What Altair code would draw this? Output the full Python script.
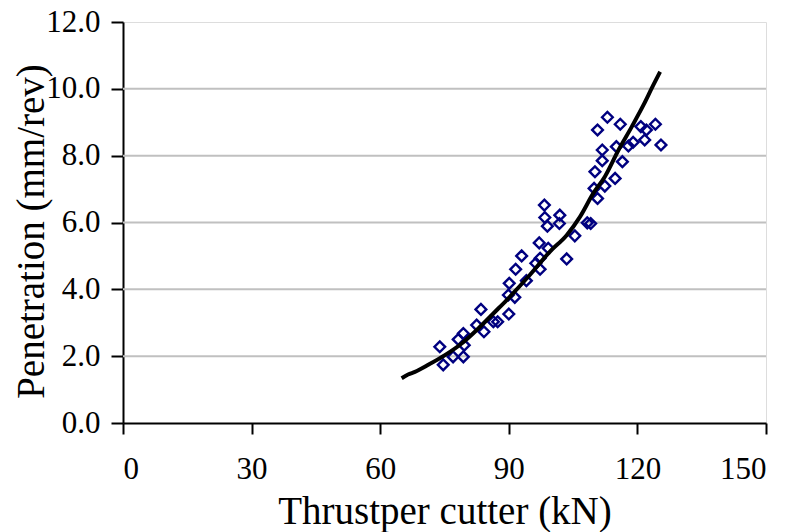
import altair as alt
import pandas as pd

# Observed data points (thrust per cutter kN, penetration mm/rev)
obs_x = [73.9, 74.7, 77.0, 79.4, 79.6, 78.2, 79.4, 82.5, 83.5, 84.2, 86.4, 87.4,
         90.0, 89.9, 91.4, 90.1, 94.1, 91.6, 93.0, 96.3, 97.3, 97.3, 97.1, 99.2,
         98.3, 98.4, 99.0, 101.9, 101.8, 103.5, 105.4, 108.3, 109.1,
         109.9, 110.7, 112.4, 114.8, 110.1, 111.8, 116.5, 111.8, 115.1, 117.9,
         119.0, 121.7, 125.5, 110.7, 113.0, 116.0, 120.8, 122.1, 124.2]
obs_y = [2.28, 1.74, 1.98, 1.98, 2.33, 2.50, 2.68, 2.93, 3.40, 2.73, 3.03, 3.03,
         3.26, 3.83, 3.76, 4.18, 4.26, 4.60, 5.00, 4.78, 4.60, 4.93, 5.39, 5.23,
         6.52, 6.15, 5.89, 6.22, 5.97, 4.91, 5.60, 5.99, 5.97,
         7.02, 6.72, 7.09, 7.32, 7.52, 7.85, 7.82, 8.17, 8.27, 8.29,
         8.40, 8.47, 8.32, 8.77, 9.15, 8.94, 8.87, 8.77, 8.94]

# Fitted curve
fit_x = [65.0, 66.5, 68.1, 71.2, 75.1, 79.0, 82.9, 86.8, 89.5, 94.9, 99.6,
         103.5, 106.6, 109.7, 112.4, 115.6, 118.7, 121.4, 123.7, 125.3]
fit_y = [1.34, 1.45, 1.53, 1.74, 2.03, 2.38, 2.83, 3.33, 3.68, 4.43, 5.13,
         5.62, 6.17, 6.87, 7.37, 8.17, 8.87, 9.51, 10.11, 10.51]

grid_y = [2, 4, 6, 8, 10]
x_ticks = [0, 30, 60, 90, 120, 150]
y_ticks = [0, 2, 4, 6, 8, 10, 12]

FONT = "Liberation Serif"

obs = pd.DataFrame({"x": obs_x, "y": obs_y})
fit = pd.DataFrame({"x": fit_x, "y": fit_y})
grid = pd.DataFrame({"g": grid_y})

xscale = alt.Scale(domain=[0, 150], nice=False, zero=False)
yscale = alt.Scale(domain=[0, 12], nice=False, zero=False)

xaxis = alt.Axis(values=x_ticks, grid=False, tickSize=11, tickWidth=2, tickColor="black",
                 domainColor="black", domainWidth=2, labelFont=FONT, labelFontSize=31,
                 labelColor="black", labelPadding=20, labelBaseline="top",
                 title="Thrustper cutter (kN)", titleFont=FONT, titleFontSize=39,
                 titleFontWeight="normal", titleColor="black", titleBaseline="alphabetic",
                 titleY=100)
yaxis = alt.Axis(values=y_ticks, format=".1f", grid=False, tickSize=12, tickWidth=2,
                 tickColor="black", domainColor="black", domainWidth=2, labelFont=FONT,
                 labelFontSize=31, labelColor="black", labelPadding=11,
                 title="Penetration (mm/rev)", titleFont=FONT, titleFontSize=39,
                 titleFontWeight="normal", titleColor="black", titleAngle=270,
                 titleBaseline="alphabetic", titleAlign="center", titleX=-80, titleY=209)

gridlines = alt.Chart(grid).mark_rule(color="#c0c0c0", strokeWidth=2).encode(
    y=alt.Y("g:Q", scale=yscale, axis=yaxis)
)

points = alt.Chart(obs).mark_point(shape="diamond", filled=False, color="#000080",
                                   size=115, strokeWidth=2.4, opacity=1).encode(
    x=alt.X("x:Q", scale=xscale, axis=xaxis),
    y=alt.Y("y:Q", scale=yscale, axis=yaxis),
)

curve = alt.Chart(fit).mark_line(color="black", strokeWidth=4, interpolate="monotone").encode(
    x=alt.X("x:Q", scale=xscale, axis=xaxis),
    y=alt.Y("y:Q", scale=yscale, axis=yaxis),
)

chart = alt.layer(gridlines, points, curve).properties(
    width=643, height=401,
    autosize=alt.AutoSizeParams(type="none"),
    padding={"left": 123, "top": 22, "right": 27, "bottom": 109},
).configure_view(strokeWidth=0, stroke="transparent").configure(background="white")

chart.save("out.html", embed_options={"renderer": "svg", "actions": False})
